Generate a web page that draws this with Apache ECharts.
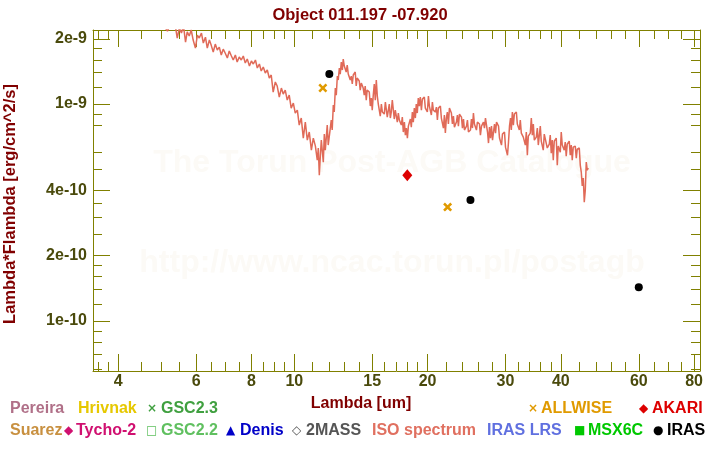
<!DOCTYPE html>
<html>
<head>
<meta charset="utf-8">
<script src="https://cdn.jsdelivr.net/npm/echarts@6/dist/echarts.min.js"></script>
<style>html,body{margin:0;padding:0;background:#fff}#c{width:720px;height:450px}</style>
</head>
<body>
<div id="c"></div>
<script>
// ---- data (wavelength in um, lambda*F_lambda in erg/cm^2/s) ----
const titleText = 'Object 011.197 -07.920';
const xName = 'Lambda [um]';
const yName = 'Lambda*Flambda [erg/cm^2/s]';

// ISO spectrum: [lambda, flux in units of 1e-9]
const isoSpectrum = [
[4.66,2.39],[4.75,2.24],[4.85,2.44],[4.95,2.34],[5.06,2.32],[5.17,2.17],[5.28,2.39],[5.39,2.27],[5.44,2.015],[5.50,2.24],
[5.56,2.125],[5.62,2.29],[5.68,1.93],[5.73,2.15],[5.79,2.06],[5.85,2.195],[5.91,1.973],[5.98,1.81],[6.04,2.08],[6.10,2.015],
[6.17,2.125],[6.23,1.91],[6.30,2.035],[6.36,1.81],[6.43,1.973],[6.49,1.87],[6.56,1.738],[6.63,1.89],[6.70,1.775],[6.77,1.83],
[6.84,1.683],[6.91,1.79],[6.98,1.72],[7.06,1.63],[7.13,1.756],[7.21,1.665],[7.28,1.596],[7.36,1.683],[7.43,1.563],[7.51,1.648],
[7.59,1.596],[7.67,1.665],[7.75,1.546],[7.83,1.613],[7.92,1.498],[8.00,1.579],[8.08,1.53],[8.17,1.596],[8.25,1.466],[8.34,1.53],
[8.42,1.42],[8.51,1.482],[8.60,1.39],[8.69,1.435],[8.78,1.318],[8.87,1.361],[8.96,1.136],[9.06,1.264],[9.15,1.211],[9.25,1.077],
[9.35,1.185],[9.44,1.112],[9.54,1.16],[9.64,1.043],[9.74,1.10],[9.84,0.958],[9.95,1.011],[10.05,0.909],[10.16,0.938],[10.26,0.800],
[10.37,0.862],[10.48,0.697],[10.59,0.826],[10.70,0.682],[10.81,0.743],[10.93,0.613],[11.04,0.697],[11.16,0.640],[11.27,0.551],[11.33,0.627],
[11.39,0.470],[11.45,0.575],[11.51,0.682],[11.63,0.540],[11.69,0.727],[11.75,0.613],[11.87,0.800],[11.93,0.647],[12.06,0.775],[12.12,0.844],
[12.18,0.759],[12.25,0.989],[12.31,0.919],[12.38,1.185],[12.44,1.10],[12.51,1.346],[12.57,1.291],[12.64,1.466],[12.70,1.375],[12.77,1.563],
[12.84,1.435],[12.90,1.613],[12.97,1.498],[13.10,1.405],[13.17,1.514],[13.24,1.375],[13.38,1.291],[13.45,1.346],[13.52,1.237],[13.59,1.361],
[13.73,1.405],[13.80,1.211],[13.87,1.318],[14.02,1.277],[14.09,1.16],[14.17,1.25],[14.31,1.185],[14.39,1.10],[14.46,1.211],[14.54,1.043],
[14.61,1.16],[14.77,1.136],[14.85,0.979],[14.93,1.066],[15.00,0.938],[15.08,1.10],[15.16,1.237],[15.24,1.043],[15.32,1.291],[15.40,1.089],
[15.48,1.000],[15.64,0.880],[15.73,1.000],[15.81,0.919],[15.97,0.899],[16.06,1.021],[16.22,0.871],[16.39,1.000],[16.48,0.862],[16.56,0.919],
[16.65,1.043],[16.82,0.853],[16.91,0.938],[17.09,0.826],[17.18,0.909],[17.27,0.844],[17.45,0.800],[17.54,0.871],[17.63,0.743],[17.73,0.826],
[17.82,0.719],[17.91,0.775],[18.01,0.697],[18.10,0.791],[18.29,0.853],[18.38,0.783],[18.48,0.919],[18.57,0.826],[18.67,0.958],[18.77,0.862],
[18.86,1.000],[18.96,0.909],[19.06,1.066],[19.16,0.979],[19.26,1.077],[19.37,0.938],[19.47,1.054],[19.67,1.077],[19.77,0.958],[19.98,0.919],
[20.09,1.089],[20.19,0.979],[20.40,0.890],[20.51,1.021],[20.61,0.938],[20.83,0.919],[20.94,0.969],[21.05,0.844],[21.16,0.958],[21.38,0.979],
[21.49,0.862],[21.72,0.775],[21.83,0.890],[21.94,0.735],[22.06,0.862],[22.17,0.919],[22.29,0.809],[22.41,0.958],[22.64,0.909],[22.76,0.809],
[22.88,0.880],[23.00,0.783],[23.24,0.826],[23.36,0.890],[23.48,0.791],[23.61,0.899],[23.86,0.871],[23.98,0.775],[24.11,0.853],[24.23,0.759],
[24.49,0.791],[24.61,0.844],[24.74,0.743],[25.00,0.759],[25.13,0.853],[25.26,0.775],[25.39,0.909],[25.52,0.809],[25.79,0.759],[25.92,0.826],
[26.20,0.809],[26.33,0.719],[26.48,0.791],[26.75,0.826],[26.89,0.775],[27.03,0.862],[27.32,0.743],[27.46,0.661],[27.60,0.783],[27.75,0.697],
[27.89,0.791],[28.04,0.682],[28.33,0.809],[28.48,0.735],[28.63,0.826],[28.93,0.791],[29.08,0.697],[29.38,0.647],[29.53,0.727],[29.84,0.743],
[30.00,0.633],[30.31,0.581],[30.47,0.668],[30.63,0.791],[30.79,0.862],[30.92,0.759],[31.09,0.919],[31.25,0.800],[31.41,0.899],[31.74,0.919],
[31.90,0.809],[32.24,0.759],[32.40,0.844],[32.57,0.735],[32.91,0.704],[33.26,0.647],[33.43,0.743],[33.61,0.581],[33.78,0.712],[34.13,0.735],
[34.31,0.862],[34.49,0.719],[34.67,0.809],[34.85,0.682],[35.21,0.704],[35.40,0.775],[35.58,0.647],[35.95,0.791],[36.13,0.675],[36.51,0.613],
[36.70,0.727],[37.08,0.712],[37.28,0.627],[37.67,0.654],[37.86,0.719],[38.06,0.594],[38.26,0.682],[38.46,0.551],[38.66,0.675],[39.06,0.697],
[39.27,0.523],[39.47,0.640],[39.89,0.600],[40.09,0.743],[40.30,0.647],[40.72,0.613],[40.93,0.668],[41.14,0.575],[41.36,0.654],[41.79,0.675],
[42.01,0.581],[42.23,0.647],[42.45,0.551],[42.67,0.633],[43.12,0.640],[43.35,0.563],[43.57,0.620],[44.03,0.627],[44.26,0.523],[44.49,0.486],
[44.72,0.419],[44.96,0.456],[45.19,0.353],[45.43,0.401],[45.66,0.540],[45.90,0.496],[46.13,0.507]
];

const irasLambda = [12, 25, 60];
const irasFlux = [1.375e-9, 3.61e-10, 1.43e-10];
const allwiseLambda = [11.6, 22.2];
const allwiseFlux = [1.185e-9, 3.35e-10];
const akariLambda = [18.0];
const akariFlux = [4.70e-10];

// axis ticks
const xMajor = [4, 6, 8, 10, 15, 20, 30, 40, 60, 80];
const xTickLabels = ['4', '6', '8', '10', '15', '20', '30', '40', '60', '80'];
const xMinor = [3.6, 3.8, 4.5, 5, 5.5, 6.5, 7, 7.5, 8.5, 9, 9.5, 11, 12, 13, 14, 16, 17, 18, 19,
  22, 24, 26, 28, 32, 34, 36, 38, 44, 48, 52, 56, 65, 70, 75];
const yMajor = [1e-10, 2e-10, 4e-10, 1e-9, 2e-9];
const yTickLabels = ['1e-10', '2e-10', '4e-10', '1e-9', '2e-9'];
const yMinor = [6e-11, 7e-11, 8e-11, 9e-11, 1.2e-10, 1.4e-10, 1.6e-10, 1.8e-10, 2.5e-10, 3e-10, 3.5e-10,
  5e-10, 6e-10, 8e-10, 9e-10, 1.2e-9, 1.4e-9, 1.6e-9, 1.8e-9];
const xRange = [3.51, 82.5];
const yRange = [5.88e-11, 2.195e-9];

// legend entries (row 1 and row 2)
const legendRow1 = [
  {sym: '', text: 'Pereira', color: '#b07088'},
  {sym: '', text: 'Hrivnak', color: '#e6c800'},
  {sym: '×', text: 'GSC2.3', color: '#40a040'},
  {sym: '×', text: 'ALLWISE', color: '#e09a00'},
  {sym: '◆', text: 'AKARI', color: '#dd0000'}
];
const legendRow2 = [
  {sym: '', text: 'Suarez', color: '#c89040'},
  {sym: '◆', text: 'Tycho-2', color: '#d01070'},
  {sym: '□', text: 'GSC2.2', color: '#60c060'},
  {sym: '▲', text: 'Denis', color: '#0000c8'},
  {sym: '◇', text: '2MASS', color: '#555555'},
  {sym: '', text: 'ISO spectrum', color: '#e07060'},
  {sym: '', text: 'IRAS LRS', color: '#6070e0'},
  {sym: '■', text: 'MSX6C', color: '#00c800'},
  {sym: '●', text: 'IRAS', color: '#000000'}
];

// ---- layout / style ----
const FONT = '"Liberation Sans", Arial, sans-serif';
const AXC = '#808000';
const LBLC = '#4a4a0c';
const DARKRED = '#800000';
const row1X = [[10, 10], [78, 78], [147, 161], [528, 541], [639, 652]];
const row2X = [[10, 10], [64, 76], [146, 161], [226, 240], [292, 306], [372, 372], [487, 487], [574, 588], [653, 667]];

function nearestLabel(v, vals, labels) {
  let best = 0, bd = Infinity;
  for (let i = 0; i < vals.length; i++) {
    const d = Math.abs(Math.log10(v) - Math.log10(vals[i]));
    if (d < bd) { bd = d; best = i; }
  }
  return labels[best];
}

function mkAxis(dim, pos, ticks, len, showLabel, showLine) {
  const isX = dim === 'x';
  const range = isX ? xRange : yRange;
  return {
    type: 'log', logBase: 10, position: pos, min: range[0], max: range[1],
    axisLine: {show: showLine, onZero: false, lineStyle: {color: AXC, width: 1}},
    axisTick: {show: true, inside: true, length: len, customValues: ticks, lineStyle: {color: AXC, width: 1}},
    axisLabel: showLabel ? {
      show: true, customValues: ticks, margin: isX ? 3 : 6, color: LBLC,
      fontSize: 16, fontWeight: 'bold', fontFamily: FONT,
      formatter: v => isX ? nearestLabel(v, xMajor, xTickLabels) : nearestLabel(v, yMajor, yTickLabels)
    } : {show: false},
    splitLine: {show: false}, minorTick: {show: false}, minorSplitLine: {show: false}
  };
}

const graphics = [
  {type: 'text', x: 392, y: 163, z: -10, silent: true,
   style: {text: 'The Torun Post-AGB Catalogue', font: 'bold 32px ' + FONT, fill: '#fcfaf6', textAlign: 'center', textVerticalAlign: 'middle'}},
  {type: 'text', x: 392, y: 263, z: -10, silent: true,
   style: {text: 'http://www.ncac.torun.pl/postagb', font: 'bold 32px ' + FONT, fill: '#fcfaf6', textAlign: 'center', textVerticalAlign: 'middle'}},
  {type: 'text', x: 361, y: 404, style: {text: xName, font: 'bold 16px ' + FONT, fill: DARKRED, textAlign: 'center', textVerticalAlign: 'middle'}},
  {type: 'text', x: 10, y: 204, rotation: Math.PI / 2,
   style: {text: yName, font: 'bold 16.5px ' + FONT, fill: DARKRED, textAlign: 'center', textVerticalAlign: 'middle'}}
];
function addLegend(row, xs, y) {
  row.forEach((it, i) => {
    if (it.sym) graphics.push({type: 'text', x: xs[i][0], y: y,
      style: {text: it.sym, font: 'bold 12px "DejaVu Sans"', fill: it.color, textAlign: 'left', textVerticalAlign: 'middle'}});
    graphics.push({type: 'text', x: xs[i][1], y: y,
      style: {text: it.text, font: 'bold 16px ' + FONT, fill: it.color, textAlign: 'left', textVerticalAlign: 'middle'}});
  });
}
addLegend(legendRow1, row1X, 409);
addLegend(legendRow2, row2X, 431);

const xPath = 'path://M0,2 L2,0 L5,3 L8,0 L10,2 L7,5 L10,8 L8,10 L5,7 L2,10 L0,8 L3,5 Z';

const chart = echarts.init(document.getElementById('c'), null, {renderer: 'canvas'});
chart.setOption({
  animation: false,
  backgroundColor: '#ffffff',
  title: {text: titleText, left: 'center', top: 2,
    textStyle: {color: DARKRED, fontSize: 16.5, fontWeight: 'bold', fontFamily: FONT}},
  grid: {left: 93, right: 20, top: 30, bottom: 79, containLabel: false, outerBoundsMode: 'none'},
  xAxis: [
    mkAxis('x', 'bottom', xMajor, 17, true, true),
    mkAxis('x', 'bottom', xMinor, 9, false, false),
    mkAxis('x', 'top', xMajor, 17, false, true),
    mkAxis('x', 'top', xMinor, 9, false, false)
  ],
  yAxis: [
    mkAxis('y', 'left', yMajor, 17, true, true),
    mkAxis('y', 'left', yMinor, 9, false, false),
    mkAxis('y', 'right', yMajor, 17, false, true),
    mkAxis('y', 'right', yMinor, 9, false, false)
  ],
  graphic: graphics,
  series: [
    {name: 'ISO spectrum', type: 'line', xAxisIndex: 0, yAxisIndex: 0, showSymbol: false, symbol: 'none',
     clip: true, lineStyle: {color: '#e06a58', width: 1.5}, z: 3,
     data: isoSpectrum.map(p => [p[0], p[1] * 1e-9])},
    {name: 'ALLWISE', type: 'scatter', symbol: xPath, symbolSize: 9, itemStyle: {color: '#e09a00', opacity: 1}, z: 5,
     data: allwiseLambda.map((l, i) => [l, allwiseFlux[i]])},
    {name: 'AKARI', type: 'scatter', symbol: 'diamond', symbolSize: [10, 12], itemStyle: {color: '#dd0000', opacity: 1}, z: 5,
     data: akariLambda.map((l, i) => [l, akariFlux[i]])},
    {name: 'IRAS', type: 'scatter', symbol: 'circle', symbolSize: 8, itemStyle: {color: '#000000', opacity: 1}, z: 5,
     data: irasLambda.map((l, i) => [l, irasFlux[i]])}
  ]
});
</script>
</body>
</html>
